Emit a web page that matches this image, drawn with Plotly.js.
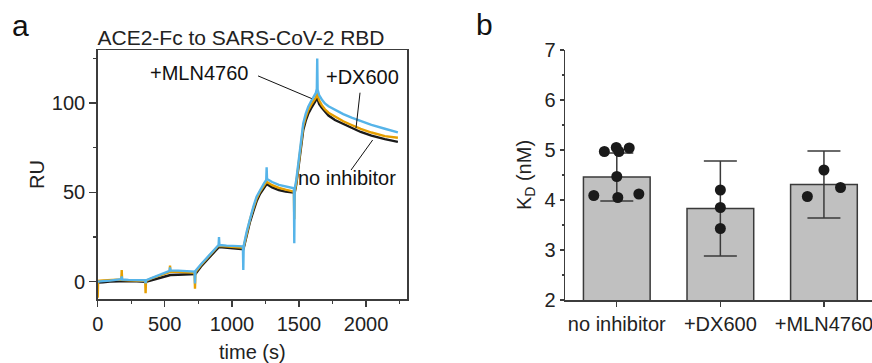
<!DOCTYPE html>
<html>
<head>
<meta charset="utf-8">
<script src="https://cdn.plot.ly/plotly-3.0.1.min.js"></script>
<style>
  html, body { margin: 0; padding: 0; background: #fff; overflow: hidden; }
  #chart { width: 872px; height: 363px; }
</style>
</head>
<body>
<div id="chart"></div>
<script>
// ---------- Panel a: sensorgram data (time in s, response in RU) ----------
const time = [0, 3, 40, 90, 140, 176, 179, 182, 230, 290, 354, 357, 360, 400, 450, 500, 536, 539, 542, 600,
  660, 722, 725, 728, 770, 820, 870, 901, 904, 907, 960, 1020, 1082, 1085, 1088, 1110, 1135, 1160, 1184, 1210,
  1234, 1256, 1259, 1262, 1300, 1350, 1400, 1462, 1465, 1468, 1480, 1495, 1507, 1520, 1532, 1550, 1569, 1590,
  1606, 1625, 1633, 1636, 1639, 1650, 1670, 1693, 1720, 1768, 1830, 1892, 1960, 2040, 2140, 2237];

const ruNoInhibitor = [-0.5, -0.5, -0.3, 0, 0.2, 0.4, 0.4, 0.4, 0.3, 0.2, 0, 0, 0, 0.8, 1.8, 2.8, 3.6, 3.7, 3.7, 3.9,
  4, 4.1, 4.1, 4.3, 8.5, 12.8, 16.8, 19.5, 19.5, 19.4, 19, 18.6, 18.2, 18.2, 18.8, 26, 33.5, 39.5, 45, 49.2,
  51.8, 54.4, 54.7, 54.5, 52.8, 51.3, 50.4, 49.5, 49.5, 49.8, 54.5, 63, 72, 79, 85, 90, 94, 97,
  98.8, 100.8, 102.3, 102.7, 102.2, 99.5, 97.3, 95.1, 93, 90.5, 88.2, 86.2, 83.8, 81.8, 79.8, 78.3];

const ruDX600 = [-9, 0.5, 0.7, 0.8, 1, 1.2, 6.5, 1, 0.8, 0.6, 0.5, -6.5, 0.5, 1.8, 3.2, 4.5, 5.3, 9, 5.5, 5.5,
  5.2, 5, -4, 5.2, 9.3, 13.5, 17.5, 20, 20.5, 20, 19.7, 19.3, 19, 19, 19.5, 27, 34.8, 41, 46.5, 50.5,
  53, 55.5, 56, 55.8, 54, 52.5, 51.5, 50.4, 35, 50.5, 55.5, 64.5, 73.5, 80.5, 87, 92, 96, 99,
  100.8, 103, 104.8, 105, 104.5, 101.5, 98.8, 96.5, 94.6, 92.3, 89.8, 87.7, 85.5, 83.5, 81.5, 80.6];

const ruMLN4760 = [0, 0, 0.3, 0.6, 1, 1.4, 3, 1.2, 1, 0.9, 0.8, -1, 0.8, 2, 3.5, 5, 6, 8, 6.3, 6.2,
  5.9, 5.6, -1, 6, 9.8, 14, 18, 20.5, 25, 20.5, 20.2, 20, 19.8, 6.5, 20, 28, 35.5, 42, 47.6, 51.5,
  54.3, 57, 64, 57.5, 55.8, 54.2, 53.2, 52.3, 21.5, 52, 57, 66, 75, 82, 88.7, 94, 98, 101,
  103, 105.5, 108, 125, 107.5, 104.5, 102, 99.8, 98.2, 96.1, 93.8, 91.8, 89.8, 87.8, 85.6, 83.6];

const seriesNames = ['no inhibitor', '+DX600', '+MLN4760'];

// ---------- Panel b: KD data (nM) ----------
const categories = ['no inhibitor', '+DX600', '+MLN4760'];
const kdMean = [4.46, 3.83, 4.31];
const kdSD = [0.48, 0.95, 0.67];
const kdNoInhibitor = [4.97, 5.05, 4.97, 5.04, 4.47, 4.09, 4.05, 4.12];
const kdDX600 = [4.2, 3.85, 3.43];
const kdMLN4760 = [4.6, 4.07, 4.25];

// ---------- style / layout settings ----------
const FONT = '"Liberation Sans", Arial, Helvetica, sans-serif';
const colors = { none: '#1a1a1a', dx: '#E69F00', mln: '#56B4E9' };
const axisColor = '#3c3c3c';
const dotJitter = [
  [-0.12, -0.005, 0.02, 0.12, 0, -0.222, 0.01, 0.213],
  [0, 0, 0],
  [0, -0.16, 0.16]
];

const kdGroups = [kdNoInhibitor, kdDX600, kdMLN4760];
const dotX = [], dotY = [];
kdGroups.forEach((g, i) => g.forEach((v, j) => { dotX.push(i + dotJitter[i][j]); dotY.push(v); }));

const traces = [
  { type: 'scatter', mode: 'lines', x: time, y: ruNoInhibitor, name: seriesNames[0],
    line: { color: colors.none, width: 2.4 }, xaxis: 'x', yaxis: 'y', showlegend: false },
  { type: 'scatter', mode: 'lines', x: time, y: ruDX600, name: seriesNames[1],
    line: { color: colors.dx, width: 2.4 }, xaxis: 'x', yaxis: 'y', showlegend: false },
  { type: 'scatter', mode: 'lines', x: time, y: ruMLN4760, name: seriesNames[2],
    line: { color: colors.mln, width: 2.4 }, xaxis: 'x', yaxis: 'y', showlegend: false },
  { type: 'bar', x: [0, 1, 2], y: kdMean, width: 0.644, xaxis: 'x2', yaxis: 'y2', showlegend: false,
    marker: { color: '#c0c0c0', line: { color: '#3a3a3a', width: 1.5 } },
    error_y: { type: 'data', array: kdSD, visible: true, color: '#3a3a3a', thickness: 1.5, width: 16.5 } },
  { type: 'scatter', mode: 'markers', x: dotX, y: dotY, xaxis: 'x2', yaxis: 'y2', showlegend: false,
    marker: { color: '#1a1a1a', size: 11 } }
];

const tickFont = { family: FONT, size: 20, color: '#222' };
const titleFont = { family: FONT, size: 20, color: '#222' };

const layout = {
  width: 872, height: 363, autosize: false,
  margin: { l: 0, r: 0, t: 0, b: 0 },
  paper_bgcolor: '#fff', plot_bgcolor: '#fff',
  font: { family: FONT, color: '#222', size: 20 },
  title: { text: 'ACE2-Fc to SARS-CoV-2 RBD', font: { family: FONT, size: 21, color: '#222' },
    x: 241 / 872, xanchor: 'center', xref: 'paper', y: 1 - 38 / 363, yanchor: 'middle', yref: 'paper' },
  xaxis: {
    domain: [97.7 / 872, 407 / 872], range: [0, 2305], anchor: 'y',
    showline: true, mirror: true, linecolor: axisColor, linewidth: 1.5,
    showgrid: false, zeroline: false,
    ticks: 'outside', ticklen: 6, tickwidth: 1.3, tickcolor: axisColor, dtick: 500, tick0: 0,
    minor: { dtick: 250, ticks: 'outside', ticklen: 3, tickwidth: 1.1, tickcolor: axisColor, showgrid: false },
    tickfont: tickFont,
    title: { text: 'time (s)', font: titleFont, standoff: 14 }
  },
  yaxis: {
    domain: [64 / 363, 313 / 363], range: [-9.7, 129.7], anchor: 'x',
    showline: true, mirror: true, linecolor: axisColor, linewidth: 1.5,
    showgrid: false, zeroline: false,
    ticks: 'outside', ticklen: 7, tickwidth: 1.3, tickcolor: axisColor, dtick: 50, tick0: 0,
    minor: { dtick: 25, ticks: 'outside', ticklen: 3, tickwidth: 1.1, tickcolor: axisColor, showgrid: false },
    tickfont: tickFont,
    title: { text: 'RU', font: titleFont, standoff: 2 }
  },
  xaxis2: {
    domain: [565 / 872, 1], range: [-0.5, 2.464], anchor: 'y2',
    showline: true, linecolor: axisColor, linewidth: 1.5,
    showgrid: false, zeroline: false,
    tickmode: 'array', tickvals: [0, 1, 2], ticktext: categories,
    ticks: 'outside', ticklen: 5, tickwidth: 1.3, tickcolor: axisColor,
    tickfont: tickFont, ticklabeloverflow: 'allow'
  },
  yaxis2: {
    domain: [63 / 363, 313 / 363], range: [2, 7], anchor: 'x2',
    showline: true, linecolor: axisColor, linewidth: 1.5,
    showgrid: false, zeroline: false,
    ticks: 'outside', ticklen: 4, tickwidth: 1.3, tickcolor: axisColor, dtick: 1, tick0: 2,
    minor: { dtick: 0.5, ticks: 'outside', ticklen: 2, tickwidth: 1.1, tickcolor: axisColor, showgrid: false },
    tickfont: tickFont,
    title: { text: 'K<sub>D</sub> (nM)', font: titleFont, standoff: 7 }
  },
  annotations: [
    { text: 'a', xref: 'paper', yref: 'paper', x: 20 / 872, y: 1 - 25 / 363, xanchor: 'center', yanchor: 'middle',
      showarrow: false, font: { family: FONT, size: 30, color: '#111' } },
    { text: 'b', xref: 'paper', yref: 'paper', x: 484 / 872, y: 1 - 24 / 363, xanchor: 'center', yanchor: 'middle',
      showarrow: false, font: { family: FONT, size: 30, color: '#111' } },
    { text: '+MLN4760', xref: 'x', yref: 'y', x: 755, y: 116.9, xanchor: 'center', yanchor: 'middle',
      showarrow: false, font: { family: FONT, size: 20, color: '#111' } },
    { text: '+DX600', xref: 'x', yref: 'y', x: 1977, y: 114.6, xanchor: 'center', yanchor: 'middle',
      showarrow: false, font: { family: FONT, size: 20, color: '#111' } },
    { text: 'no inhibitor', xref: 'x', yref: 'y', x: 1855, y: 57.9, xanchor: 'center', yanchor: 'middle',
      showarrow: false, font: { family: FONT, size: 20, color: '#111' } }
  ],
  shapes: [
    { type: 'line', xref: 'x', yref: 'y', x0: 1195, y0: 115.2, x1: 1595, y1: 102.5, line: { color: '#111', width: 1 } },
    { type: 'line', xref: 'x', yref: 'y', x0: 1955, y0: 105.8, x1: 1925, y1: 85.9, line: { color: '#111', width: 1 } },
    { type: 'line', xref: 'x', yref: 'y', x0: 2049, y0: 79.3, x1: 1888, y1: 62.5, line: { color: '#111', width: 1 } }
  ]
};

Plotly.newPlot('chart', traces, layout, { staticPlot: true, displayModeBar: false });
</script>
</body>
</html>
